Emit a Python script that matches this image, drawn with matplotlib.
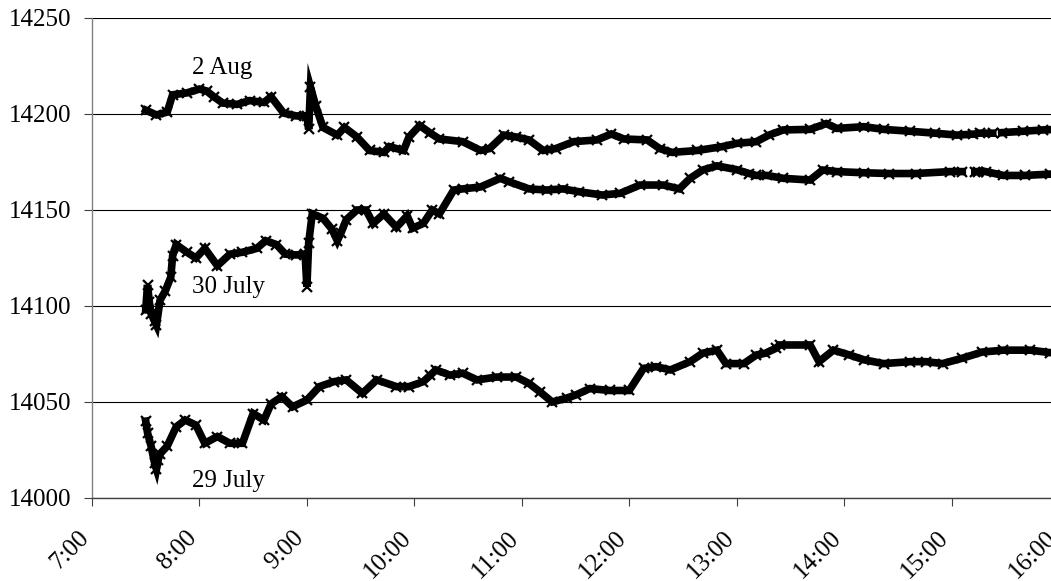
import numpy as np
import matplotlib
matplotlib.use("Agg")
import matplotlib.pyplot as plt
import matplotlib.transforms as mtransforms

plt.rcParams['font.family'] = ['Liberation Serif', 'DejaVu Serif']

# ---- data (time "H:MM", value); None marks a gap in the record ----
aug2_times = ["7:30","7:36","7:42","7:45","7:53","8:00","8:04","8:08","8:13","8:21","8:28","8:36","8:40","8:47","8:54","9:00","9:01","9:02","9:05","9:09","9:17","9:21","9:28","9:35","9:43","9:46","9:54","9:57","10:03","10:09","10:14","10:27","10:37","10:42","10:50","10:57","11:04","11:12","11:19","11:29","11:42","11:50","11:57","12:10","12:17","12:24","12:38","12:52","13:00","13:11","13:18","13:26","13:41","13:50","13:56","14:11","14:22","14:37","14:51","15:03","15:12","15:14","15:16","15:23","15:25","15:28","15:40","15:51","16:00"]
aug2_values = [14202,14199.5,14201,14210,14211,14213,14212,14209,14205.7,14205,14207,14206,14209,14200.5,14199,14199,14192,14214,14204,14193,14189,14193,14188,14181,14180,14183,14181,14188,14194,14190,14187,14185.6,14181,14182,14189,14188,14186.5,14181,14182,14185.6,14186.5,14189.6,14187,14186.5,14182,14180,14181,14183,14184.7,14185.6,14189,14191.7,14192,14195,14192.5,14193.4,14192,14191,14190,14189,14189.5,None,14190,14190,None,14190.3,14191,14191.7,14192]

jul30_times = ["7:30","7:31","7:32","7:33","7:35","7:36","7:38","7:41","7:44","7:45","7:47","7:53","7:58","8:03","8:10","8:17","8:24","8:32","8:37","8:43","8:48","8:54","8:59","9:00","9:01","9:03","9:09","9:14","9:17","9:19","9:22","9:28","9:33","9:37","9:43","9:50","9:56","9:59","10:05","10:10","10:14","10:22","10:27","10:37","10:48","10:53","11:04","11:14","11:23","11:32","11:45","11:55","12:06","12:19","12:28","12:34","12:41","12:49","13:00","13:07","13:11","13:17","13:26","13:41","13:48","13:56","14:11","14:25","14:40","14:59","15:06","15:09","15:13","15:15","15:17","15:19","15:29","15:41","15:55","16:00"]
jul30_values = [14098,14111,14102,14096,14092,14090,14103,14108,14115,14126,14132,14128,14125,14130,14121,14127,14128,14130,14134,14132,14127,14126.6,14127,14110,14133,14148,14145.7,14140,14134,14138,14145,14150,14150,14143,14148,14141,14147,14140.5,14143,14150,14148,14160.4,14161,14162,14166.5,14164.7,14161,14160.4,14161,14159.5,14157.8,14158.7,14163,14163,14161,14166.5,14170.8,14173,14171,14169,14168,14168,14166.5,14165.6,14170.8,14170,14169.4,14169,14169,14170,14170,None,14170,14170,None,14170,14168,14168,14168.7,14168]

jul29_times = ["7:30","7:31","7:33","7:35","7:36","7:37","7:38","7:42","7:47","7:52","7:58","8:03","8:10","8:17","8:24","8:30","8:36","8:40","8:46","8:52","9:00","9:07","9:15","9:22","9:31","9:39","9:50","9:57","10:05","10:09","10:12","10:20","10:27","10:35","10:46","10:57","11:04","11:10","11:17","11:25","11:30","11:38","11:49","12:00","12:08","12:15","12:23","12:34","12:41","12:49","12:54","13:04","13:11","13:16","13:22","13:24","13:41","13:46","13:54","14:03","14:11","14:22","14:37","14:46","14:55","15:06","15:17","15:29","15:44","15:55","16:00"]
jul29_values = [14040,14034,14027,14018,14015,14020,14023,14027,14037,14040.6,14038,14028.5,14032,14028.5,14028.5,14044,14040.6,14049,14052.8,14047.5,14051,14058,14060.6,14061.5,14054.5,14061.5,14058,14058,14060.6,14064,14066.7,14064,14065,14061.5,14063,14063,14059.7,14055.4,14050,14052,14053.6,14057,14056,14056,14067.5,14068.4,14066.7,14071,14075.4,14077,14070,14070,14074.5,14075.4,14078,14079.7,14079.7,14071,14077,14074.5,14072,14070,14071,14071,14070,14072.8,14076,14077,14077,14075.7,14076]

series_labels = ["2 Aug", "30 July", "29 July"]
x_tick_labels = ["7:00","8:00","9:00","10:00","11:00","12:00","13:00","14:00","15:00","16:00"]
y_ticks = [14000, 14050, 14100, 14150, 14200, 14250]


def to_hours(ts):
    out = []
    for s in ts:
        h, m = s.split(":")
        out.append(int(h) + int(m) / 60.0)
    return np.array(out)


def to_vals(vs):
    return np.array([np.nan if v is None else v for v in vs], dtype=float)


fig = plt.figure(figsize=(10.51, 5.81), dpi=100)
ax = fig.add_axes([92 / 1051, 1 - 498 / 581, (1059 - 92) / 1051, 480 / 581])

for ts, vs in [(aug2_times, aug2_values), (jul30_times, jul30_values), (jul29_times, jul29_values)]:
    ax.plot(to_hours(ts), to_vals(vs), color='black', lw=5.5, marker='x', ms=7, mew=1.6,
            solid_joinstyle='miter', zorder=3)

ax.set_xlim(7, 16)
ax.set_ylim(14000, 14250)
ax.set_yticks(y_ticks)
ax.set_yticklabels([str(v) for v in y_ticks])
xt = to_hours(x_tick_labels)
ax.set_xticks(xt)

ax.grid(axis='y', color='black', lw=0.8, zorder=1)
ax.set_axisbelow(True)
for sp in ['top', 'right']:
    ax.spines[sp].set_visible(False)
ax.spines['left'].set_color('#808080')
ax.spines['left'].set_linewidth(1.0)
ax.spines['bottom'].set_color('#404040')
ax.spines['bottom'].set_linewidth(1.0)

ax.tick_params(axis='y', direction='out', length=6, width=0.8, color='#404040',
               labelsize=18, pad=9, labelcolor='black')
ax.tick_params(axis='x', direction='out', length=6, width=0.8, color='#404040',
               labelbottom=False)

# rotated time labels under each tick
base = mtransforms.blended_transform_factory(ax.transData, ax.transAxes)
shift = mtransforms.ScaledTranslation(-14 / 100, -29 / 100, fig.dpi_scale_trans)
for x, lab in zip(xt, x_tick_labels):
    ax.text(x, 0, lab, transform=base + shift, rotation=45, ha='right', va='top',
            rotation_mode='anchor', fontsize=18, color='black', clip_on=False)

label_pos = [(7.93, 14220.8), (7.93, 14106.9), (7.93, 14005.9)]
for name, (lx, ly) in zip(series_labels, label_pos):
    ax.text(lx, ly, name, fontsize=18, ha='left', va='baseline', color='black')

fig.savefig("out.png", dpi=100)
